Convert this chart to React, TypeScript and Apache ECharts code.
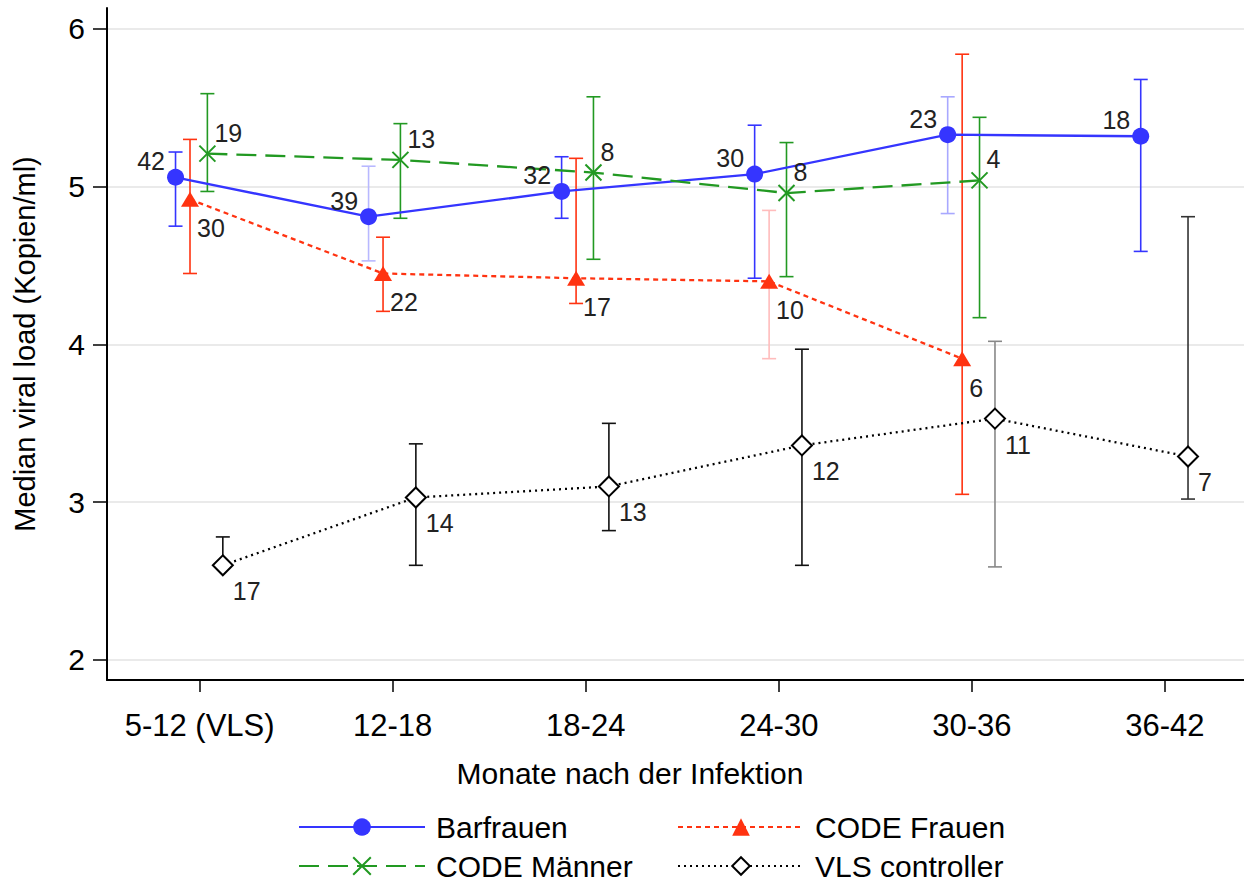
import React, { useEffect, useRef } from 'react';
import * as echarts from 'echarts';

const categories = ['5-12 (VLS)', '12-18', '18-24', '24-30', '30-36', '36-42'];
const yTicks = [2, 3, 4, 5, 6];

const barfrauenMedian = [5.06, 4.81, 4.97, 5.08, 5.33, 5.32];
const barfrauenLow = [4.75, 4.53, 4.8, 4.42, 4.83, 4.59];
const barfrauenHigh = [5.22, 5.13, 5.19, 5.39, 5.57, 5.68];
const barfrauenN = [42, 39, 32, 30, 23, 18];

const codeFrauenMedian = [4.92, 4.45, 4.42, 4.4, 3.91];
const codeFrauenLow = [4.45, 4.21, 4.26, 3.91, 3.05];
const codeFrauenHigh = [5.3, 4.68, 5.18, 4.85, 5.84];
const codeFrauenN = [30, 22, 17, 10, 6];

const codeMaennerMedian = [5.21, 5.17, 5.09, 4.96, 5.04];
const codeMaennerLow = [4.97, 4.8, 4.54, 4.43, 4.17];
const codeMaennerHigh = [5.59, 5.4, 5.57, 5.28, 5.44];
const codeMaennerN = [19, 13, 8, 8, 4];

const vlsMedian = [2.6, 3.03, 3.1, 3.36, 3.53, 3.29];
const vlsLow = [2.6, 2.6, 2.82, 2.6, 2.59, 3.02];
const vlsHigh = [2.78, 3.37, 3.5, 3.97, 4.02, 4.81];
const vlsN = [17, 14, 13, 12, 11, 7];

const FONT = '"Liberation Sans", Arial, Helvetica, sans-serif';

export default function App() {
  const ref = useRef<HTMLDivElement>(null);

  useEffect(() => {
    const chart = echarts.init(ref.current!, null, { renderer: 'svg' });

    const makeLine = (
      name: string,
      color: string,
      values: number[],
      counts: number[],
      offset: number,
      symbol: string,
      symbolSize: any,
      lineType: any,
      itemStyle: any,
      label: any
    ) => ({
      type: 'line',
      name,
      z: 3,
      data: values.map((v, i) => [i + offset, v]),
      symbol,
      symbolSize,
      showAllSymbol: true,
      lineStyle: { color, width: 2.3, type: lineType },
      itemStyle,
      label: {
        show: true,
        fontFamily: FONT,
        fontSize: 25,
        color: '#222',
        formatter: (p: any) => String(counts[p.dataIndex]),
        ...label,
      },
      emphasis: { disabled: true },
    });

    const makeErr = (
      name: string,
      low: number[],
      high: number[],
      offset: number,
      colors: string[]
    ) => ({
      type: 'custom',
      name: name + ' KI',
      z: 1,
      silent: true,
      data: low.map((l, i) => [i + offset, l, high[i]]),
      encode: { x: 0, y: [1, 2] },
      renderItem: (params: any, api: any) => {
        const x = api.value(0);
        const p1 = api.coord([x, api.value(1)]);
        const p2 = api.coord([x, api.value(2)]);
        const cap = 7;
        const style = { stroke: colors[params.dataIndex], lineWidth: 1.6, fill: 'none' };
        return {
          type: 'group',
          children: [
            { type: 'line', shape: { x1: p1[0], y1: p1[1], x2: p2[0], y2: p2[1] }, style },
            { type: 'line', shape: { x1: p1[0] - cap, y1: p1[1], x2: p1[0] + cap, y2: p1[1] }, style },
            { type: 'line', shape: { x1: p2[0] - cap, y1: p2[1], x2: p2[0] + cap, y2: p2[1] }, style },
          ],
        };
      },
    });

    const BLUE = '#3535ff';
    const RED = '#ff3311';
    const GREEN = '#229922';
    const BLACK = '#000000';

    const legendText = {
      fontFamily: FONT,
      fontSize: 30,
      color: '#000',
      padding: [0, 0, 0, 6],
    };

    const mkLegend = (name: string, left: number, top: number) => ({
      orient: 'horizontal',
      left,
      top,
      itemWidth: 126,
      itemHeight: 22,
      selectedMode: false,
      data: [name],
      textStyle: legendText,
    });

    const option: any = {
      animation: false,
      backgroundColor: '#ffffff',
      grid: { left: 107, right: 0, top: 8, bottom: 204, containLabel: false },
      xAxis: {
        type: 'value',
        min: -0.48,
        max: 5.41,
        axisLine: { show: true, onZero: false, lineStyle: { color: '#000', width: 2 } },
        axisTick: { show: true, length: 12, customValues: [0, 1, 2, 3, 4, 5], lineStyle: { color: '#000', width: 1.5 } },
        axisLabel: {
          customValues: [0, 1, 2, 3, 4, 5],
          formatter: (v: number) => categories[Math.round(v)] ?? '',
          fontFamily: FONT,
          fontSize: 31,
          color: '#000',
          margin: 30,
        },
        splitLine: { show: false },
      },
      yAxis: {
        type: 'value',
        min: 1.873,
        max: 6.133,
        name: 'Median viral load (Kopien/ml)',
        nameLocation: 'middle',
        nameGap: 68,
        nameTextStyle: { fontFamily: FONT, fontSize: 29, color: '#000' },
        axisLine: { show: true, onZero: false, lineStyle: { color: '#000', width: 2 } },
        axisTick: { show: true, length: 14, customValues: yTicks, lineStyle: { color: '#000', width: 1.5 } },
        axisLabel: {
          customValues: yTicks,
          fontFamily: FONT,
          fontSize: 30,
          color: '#000',
          margin: 22,
        },
        splitLine: { show: true, lineStyle: { color: '#e3e3e3', width: 1.5 } },
      },
      legend: [
        mkLegend('Barfrauen', 293, 807),
        mkLegend('CODE Männer', 293, 846),
        mkLegend('CODE Frauen', 672, 807),
        mkLegend('VLS controller', 672, 846),
      ],
      graphic: [
        {
          type: 'text',
          x: 630,
          y: 773,
          style: {
            text: 'Monate nach der Infektion',
            fontFamily: FONT,
            fontSize: 30,
            fill: '#000',
            textAlign: 'center',
            textVerticalAlign: 'middle',
          },
        },
      ],
      series: [
        makeErr('Barfrauen', barfrauenLow, barfrauenHigh, -0.125, [BLUE, '#b8b8ff', BLUE, BLUE, '#a8a8ff', BLUE]),
        makeErr('CODE Frauen', codeFrauenLow, codeFrauenHigh, -0.05, [RED, RED, RED, '#ffbcbc', RED]),
        makeErr('CODE Männer', codeMaennerLow, codeMaennerHigh, 0.04, [GREEN, GREEN, GREEN, GREEN, GREEN]),
        makeErr('VLS controller', vlsLow, vlsHigh, 0.12, ['#111', '#111', '#111', '#111', '#888', '#333']),
        makeLine('Barfrauen', BLUE, barfrauenMedian, barfrauenN, -0.125, 'circle', 17, 'solid',
          { color: BLUE },
          { position: 'left', distance: 2, offset: [0, -16] }),
        makeLine('CODE Frauen', RED, codeFrauenMedian, codeFrauenN, -0.05, 'triangle', [18, 15], [5, 4],
          { color: RED },
          { position: 'right', distance: 0, offset: [-2, 29] }),
        makeLine('CODE Männer', GREEN, codeMaennerMedian, codeMaennerN, 0.04,
          'path://M0,0L10,10M10,0L0,10', 16, [20, 9],
          { color: GREEN, borderColor: GREEN, borderWidth: 2 },
          { position: 'right', distance: 0, offset: [-2, -21] }),
        makeLine('VLS controller', BLACK, vlsMedian, vlsN, 0.12, 'diamond', 20, [2, 4],
          { color: '#ffffff', borderColor: BLACK, borderWidth: 2 },
          { position: 'right', distance: 0, offset: [-1, 26] }),
      ],
    };

    chart.setOption(option);
    return () => chart.dispose();
  }, []);

  return (
    <div
      ref={ref}
      style={{ position: 'fixed', left: 0, top: 0, width: 1244, height: 884, background: '#fff' }}
    />
  );
}
